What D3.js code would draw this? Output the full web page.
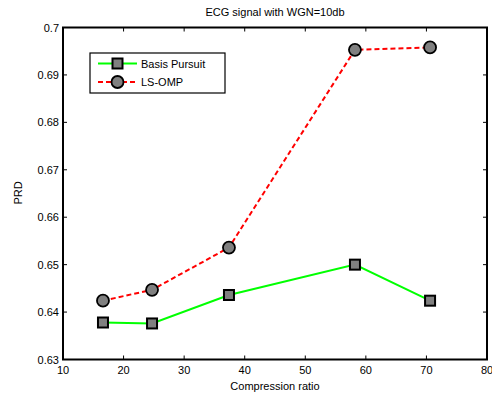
<!DOCTYPE html>
<html>
<head>
<meta charset="utf-8">
<script src="https://d3js.org/d3.v7.min.js"></script>
<style>
  body { margin: 0; background: #fff; }
  text { font-family: "Liberation Sans", Arial, sans-serif; font-size: 11px; fill: #000; }
</style>
</head>
<body>
<svg width="492" height="397"></svg>
<script>
// compression ratios and PRD values
var ratios = [16.6, 24.7, 37.4, 58.2, 70.6];
var basisPursuit = [0.6378, 0.6376, 0.6436, 0.6500, 0.6424];
var lsOmp = [0.6424, 0.6447, 0.6536, 0.6953, 0.6958];
var xTicks = [10, 20, 30, 40, 50, 60, 70, 80];
var yTicks = [0.63, 0.64, 0.65, 0.66, 0.67, 0.68, 0.69, 0.7];

// plot box (window.top is read-only, so no "top" var)
var pL = 63, pR = 487, pT = 27.5, pB = 359.5;

var svg = d3.select("svg");
var x = d3.scaleLinear().domain([10, 80]).range([pL, pR]);
var y = d3.scaleLinear().domain([0.63, 0.7]).range([pB, pT]);

// ticks inside the box, MATLAB style
var g = svg.append("g");
g.selectAll(".xt").data(xTicks).enter().append("path")
  .attr("d", d => "M" + x(d) + "," + pB + "v-4M" + x(d) + "," + pT + "v4")
  .attr("stroke", "#000").attr("stroke-width", 1);
g.selectAll(".yt").data(yTicks).enter().append("path")
  .attr("d", d => "M" + pL + "," + y(d) + "h4M" + pR + "," + y(d) + "h-4")
  .attr("stroke", "#000").attr("stroke-width", 1);

svg.append("rect")
  .attr("x", pL).attr("y", pT)
  .attr("width", pR - pL).attr("height", pB - pT)
  .attr("fill", "none").attr("stroke", "#000").attr("stroke-width", 2);

g.selectAll(".xl").data(xTicks).enter().append("text")
  .attr("x", d => x(d)).attr("y", pB + 14)
  .attr("text-anchor", "middle").text(d => d);
g.selectAll(".yl").data(yTicks).enter().append("text")
  .attr("x", pL - 4).attr("y", d => y(d) + 4)
  .attr("text-anchor", "end").text(d => d);

svg.append("text").attr("x", 275).attr("y", 16).attr("text-anchor", "middle")
  .text("ECG signal with WGN=10db");
svg.append("text").attr("x", 275).attr("y", 390).attr("text-anchor", "middle")
  .text("Compression ratio");
svg.append("text").attr("transform", "translate(22,193) rotate(-90)")
  .attr("text-anchor", "middle").text("PRD");

var line = d3.line().x(d => x(d[0])).y(d => y(d[1]));
var bp = ratios.map((r, i) => [r, basisPursuit[i]]);
var ls = ratios.map((r, i) => [r, lsOmp[i]]);

svg.append("path").datum(bp).attr("d", line)
  .attr("fill", "none").attr("stroke", "#00ff00").attr("stroke-width", 2);
svg.append("path").datum(ls).attr("d", line)
  .attr("fill", "none").attr("stroke", "#ff0000").attr("stroke-width", 2)
  .attr("stroke-dasharray", "5,3");

function square(sel) {
  sel.append("rect").attr("x", -5).attr("y", -5).attr("width", 10).attr("height", 10)
    .attr("fill", "#808080").attr("stroke", "#000").attr("stroke-width", 2);
}
function circle(sel) {
  sel.append("circle").attr("r", 6)
    .attr("fill", "#808080").attr("stroke", "#000").attr("stroke-width", 1.8);
}

svg.selectAll(".bp").data(bp).enter().append("g")
  .attr("transform", d => "translate(" + x(d[0]) + "," + y(d[1]) + ")").call(square);
svg.selectAll(".ls").data(ls).enter().append("g")
  .attr("transform", d => "translate(" + x(d[0]) + "," + y(d[1]) + ")").call(circle);

// legend
var lg = svg.append("g");
lg.append("rect").attr("x", 90).attr("y", 53).attr("width", 135).attr("height", 40)
  .attr("fill", "#fff").attr("stroke", "#000").attr("stroke-width", 1.2);
lg.append("path").attr("d", "M98,63.5H137").attr("stroke", "#00ff00").attr("stroke-width", 2);
lg.append("path").attr("d", "M98,82H137").attr("stroke", "#ff0000").attr("stroke-width", 2)
  .attr("stroke-dasharray", "5,3");
lg.append("g").attr("transform", "translate(117.5,63.5)").call(square);
lg.append("g").attr("transform", "translate(117.5,82)").call(circle);
lg.append("text").attr("x", 141).attr("y", 67.5).text("Basis Pursuit");
lg.append("text").attr("x", 141).attr("y", 86).text("LS-OMP");
</script>
</body>
</html>
